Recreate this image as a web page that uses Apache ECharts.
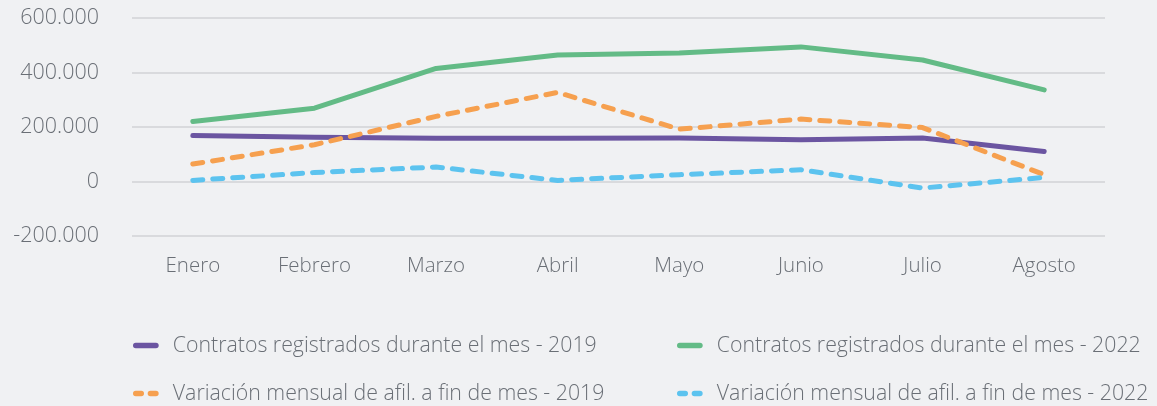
<!DOCTYPE html>
<html>
<head>
<meta charset="utf-8">
<script src="https://cdn.jsdelivr.net/npm/echarts@6/dist/echarts.min.js"></script>
<style>
  html, body { margin: 0; padding: 0; background: #f0f1f3; }
  #main { width: 1157px; height: 406px; }
</style>
</head>
<body>
<div id="main"></div>
<script>
var months = ['Enero', 'Febrero', 'Marzo', 'Abril', 'Mayo', 'Junio', 'Julio', 'Agosto'];
var contratos2019 = [169000, 162000, 159000, 159000, 160000, 153000, 160000, 110000];
var contratos2022 = [220000, 269000, 415000, 464000, 472000, 494000, 446000, 336000];
var variacion2019 = [64000, 135000, 239000, 327000, 192000, 229000, 198000, 25000];
var variacion2022 = [4000, 33000, 53000, 4000, 25000, 43000, -24000, 15000];
var yTicks = [-200000, 0, 200000, 400000, 600000];

var names = [
    'Contratos registrados durante el mes - 2019',
    'Contratos registrados durante el mes - 2022',
    'Variación mensual de afil. a fin de mes - 2019',
    'Variación mensual de afil. a fin de mes - 2022'
];
var colors = ['#6b55a1', '#63bb86', '#f6a04f', '#5cc3ef'];
var FONT = '"Open Sans", sans-serif';
var TEXT = '#6a6f76';

// iconos de la leyenda: trazo continuo y dos guiones
var ICON_SOLID = 'path://M3,0h22a3,3 0 0 1 0,6h-22a3,3 0 0 1 0,-6z';
var ICON_DASH = 'path://M3,0h6a3,3 0 0 1 0,6h-6a3,3 0 0 1 0,-6zM19,0h6a3,3 0 0 1 0,6h-6a3,3 0 0 1 0,-6z';

function fmt(v) {
    if (v === 0) return '0';
    var s = Math.abs(v).toString().replace(/\B(?=(\d{3})+(?!\d))/g, '.');
    return (v < 0 ? '-' : '') + s;
}

function lineSeries(name, data, color, dashed) {
    return {
        name: name,
        type: 'line',
        data: data,
        symbol: 'none',
        lineStyle: {
            color: color,
            width: 5,
            type: dashed ? [10, 10] : 'solid',
            cap: 'round',
            join: 'round'
        },
        itemStyle: { color: color }
    };
}

// una leyenda por elemento, en dos filas y dos columnas
var legendPos = [[128, 330], [672, 330], [128, 378], [672, 378]];
var legends = names.map(function (n, i) {
    return {
        data: [{ name: n, icon: i < 2 ? ICON_SOLID : ICON_DASH }],
        left: legendPos[i][0],
        top: legendPos[i][1],
        itemWidth: 28,
        itemHeight: 5.5,
        textStyle: { color: TEXT, fontFamily: FONT, fontWeight: 300, fontSize: 21.3, padding: [0, 0, 0, 8] }
    };
});

var option = {
    backgroundColor: '#f0f1f3',
    animation: false,
    grid: { left: 132, right: 52, top: 18, bottom: 170 },
    legend: legends,
    xAxis: {
        type: 'category',
        data: months,
        boundaryGap: true,
        axisLine: { show: false },
        axisTick: { show: false },
        axisLabel: { color: TEXT, fontFamily: FONT, fontWeight: 300, fontSize: 20.5, margin: 20 }
    },
    yAxis: {
        type: 'value',
        min: yTicks[0],
        max: yTicks[yTicks.length - 1],
        interval: 200000,
        axisLine: { show: false },
        axisTick: { show: false },
        splitLine: { lineStyle: { color: '#d9dadd', width: 2 } },
        axisLabel: { color: TEXT, fontFamily: FONT, fontWeight: 300, fontSize: 21.5, margin: 33, formatter: fmt }
    },
    series: [
        lineSeries(names[0], contratos2019, colors[0], false),
        lineSeries(names[1], contratos2022, colors[1], false),
        lineSeries(names[2], variacion2019, colors[2], true),
        lineSeries(names[3], variacion2022, colors[3], true)
    ]
};

var chart = echarts.init(document.getElementById('main'));
chart.setOption(option);
</script>
</body>
</html>
